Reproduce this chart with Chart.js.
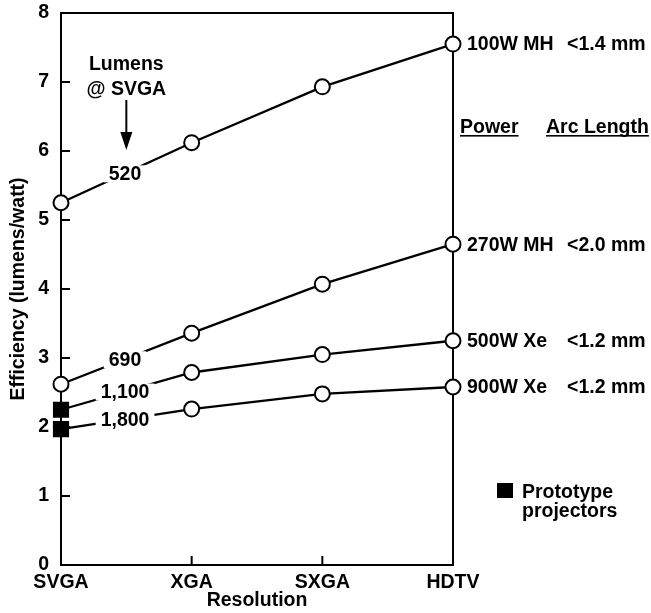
<!DOCTYPE html>
<html>
<head>
<meta charset="utf-8">
<script src="https://cdn.jsdelivr.net/npm/chart.js@4"></script>
<style>
  body { margin: 0; background: #fff; }
  canvas { display: block; }
</style>
</head>
<body>
<canvas id="effChart" width="651" height="613"></canvas>
<script>
const resolutions = ['SVGA', 'XGA', 'SXGA', 'HDTV'];
const mh100 = [5.25, 6.12, 6.93, 7.55];
const mh270 = [2.62, 3.36, 4.07, 4.65];
const xe500 = [2.25, 2.79, 3.05, 3.25];
const xe900 = [1.97, 2.26, 2.48, 2.58];
const lumensAtSvga = ['520', '690', '1,100', '1,800'];
const powerLabels = ['100W MH', '270W MH', '500W Xe', '900W Xe'];
const arcLengths = ['<1.4 mm', '<2.0 mm', '<1.2 mm', '<1.2 mm'];
// prototype projectors only exist at SVGA for the two xenon lamps
const prototypeFlags = [
    [false, false, false, false],
    [false, false, false, false],
    [true, false, false, false],
    [true, false, false, false]
];

const FONT = '"Liberation Sans", Arial, sans-serif';
const SIZE = 19.5;

function makeSeries(values, proto) {
    return {
        data: values,
        borderColor: '#000',
        borderWidth: 2.3,
        tension: 0,
        clip: false,
        pointStyle: proto.map(p => p ? 'rect' : 'circle'),
        pointRadius: proto.map(p => p ? 10 : 7.5),
        pointBackgroundColor: proto.map(p => p ? '#000' : '#fff'),
        pointBorderColor: '#000',
        pointBorderWidth: 2,
        pointHoverRadius: proto.map(p => p ? 10 : 7.5)
    };
}

const framePlugin = {
    id: 'frame',
    beforeDatasetsDraw(chart) {
        const { ctx, chartArea: a, scales } = chart;
        ctx.save();
        ctx.strokeStyle = '#000';
        ctx.lineWidth = 2;
        ctx.strokeRect(a.left, a.top, a.right - a.left, a.bottom - a.top);
        ctx.beginPath();
        // inward ticks on the left axis
        for (let v = 1; v <= 7; v++) {
            const y = scales.y.getPixelForValue(v);
            ctx.moveTo(a.left, y);
            ctx.lineTo(a.left + 9, y);
        }
        // inward ticks on the bottom axis
        for (let i = 1; i < resolutions.length - 1; i++) {
            const x = scales.x.getPixelForValue(i);
            ctx.moveTo(x, a.bottom);
            ctx.lineTo(x, a.bottom - 9);
        }
        ctx.stroke();
        ctx.restore();
    }
};

const annotationPlugin = {
    id: 'annotations',
    afterDatasetsDraw(chart) {
        const { ctx, chartArea: a, scales } = chart;
        ctx.save();
        ctx.fillStyle = '#000';
        ctx.font = 'bold ' + SIZE + 'px ' + FONT;

        // lumens labels sitting on the SVGA-XGA segment
        chart.data.datasets.forEach((ds, i) => {
            const pts = chart.getDatasetMeta(i).data;
            const t = 0.49;
            const x = pts[0].x + (pts[1].x - pts[0].x) * t;
            const y = pts[0].y + (pts[1].y - pts[0].y) * t;
            const w = ctx.measureText(lumensAtSvga[i]).width;
            ctx.fillStyle = '#fff';
            ctx.fillRect(x - w / 2 - 5, y - 8, w + 10, 17);
            ctx.fillStyle = '#000';
            ctx.textAlign = 'center';
            ctx.textBaseline = 'middle';
            ctx.fillText(lumensAtSvga[i], x, y + 1);

            // lamp labels at the HDTV end
            const last = pts[pts.length - 1];
            ctx.textAlign = 'left';
            ctx.fillText(powerLabels[i], last.x + 14, last.y + 1);
            ctx.fillText(arcLengths[i], last.x + 114, last.y + 1);
        });

        // column headers
        ctx.textAlign = 'left';
        ctx.textBaseline = 'alphabetic';
        const hy = a.top + 120;
        [['Power', a.right + 7], ['Arc Length', a.right + 93]].forEach(([txt, x]) => {
            ctx.fillText(txt, x, hy);
            const w = ctx.measureText(txt).width;
            ctx.fillRect(x, hy + 2, w, 1.6);
        });

        // "Lumens @ SVGA" with arrow
        const mx = (scales.x.getPixelForValue(0) + scales.x.getPixelForValue(1)) / 2;
        ctx.textAlign = 'center';
        ctx.fillText('Lumens', mx, a.top + 57);
        ctx.fillText('@ SVGA', mx, a.top + 82);
        ctx.lineWidth = 2;
        ctx.strokeStyle = '#000';
        ctx.beginPath();
        ctx.moveTo(mx, a.top + 87);
        ctx.lineTo(mx, a.top + 122);
        ctx.stroke();
        ctx.beginPath();
        ctx.moveTo(mx - 6, a.top + 119);
        ctx.lineTo(mx + 6, a.top + 119);
        ctx.lineTo(mx, a.top + 137);
        ctx.closePath();
        ctx.fill();

        // prototype key
        ctx.fillRect(a.right + 44, a.top + 470, 16, 15);
        ctx.textAlign = 'left';
        ctx.fillText('Prototype', a.right + 69, a.top + 485);
        ctx.fillText('projectors', a.right + 69, a.top + 504);
        ctx.restore();
    }
};

const effChart = new Chart(document.getElementById('effChart'), {
    type: 'line',
    data: {
        labels: resolutions,
        datasets: [
            makeSeries(mh100, prototypeFlags[0]),
            makeSeries(mh270, prototypeFlags[1]),
            makeSeries(xe500, prototypeFlags[2]),
            makeSeries(xe900, prototypeFlags[3])
        ]
    },
    options: {
        responsive: false,
        animation: false,
        layout: { padding: { top: 13, right: 198, left: 0, bottom: 0 } },
        plugins: {
            legend: { display: false },
            tooltip: { enabled: false }
        },
        scales: {
            x: {
                offset: false,
                grid: { display: false, drawTicks: false },
                border: { display: false },
                ticks: {
                    color: '#000',
                    padding: 8,
                    maxRotation: 0,
                    autoSkip: false,
                    font: { family: FONT, size: SIZE, weight: 'bold', lineHeight: 1 }
                },
                title: {
                    display: true,
                    text: 'Resolution',
                    color: '#000',
                    padding: { top: 0, bottom: 1 },
                    font: { family: FONT, size: SIZE, weight: 'bold' }
                },
                afterFit(scale) { scale.height = 48; }
            },
            y: {
                min: 0,
                max: 8,
                grid: { display: false, drawTicks: false },
                border: { display: false },
                ticks: {
                    stepSize: 1,
                    color: '#000',
                    padding: 12,
                    font: { family: FONT, size: SIZE, weight: 'bold' }
                },
                title: {
                    display: true,
                    text: 'Efficiency (lumens/watt)',
                    color: '#000',
                    padding: { top: 7, bottom: 0 },
                    font: { family: FONT, size: SIZE, weight: 'bold' }
                },
                afterFit(scale) {
                    scale.width = 61;
                    scale.paddingTop = 0;
                    scale.paddingBottom = 0;
                }
            }
        }
    },
    plugins: [framePlugin, annotationPlugin]
});
</script>
</body>
</html>
